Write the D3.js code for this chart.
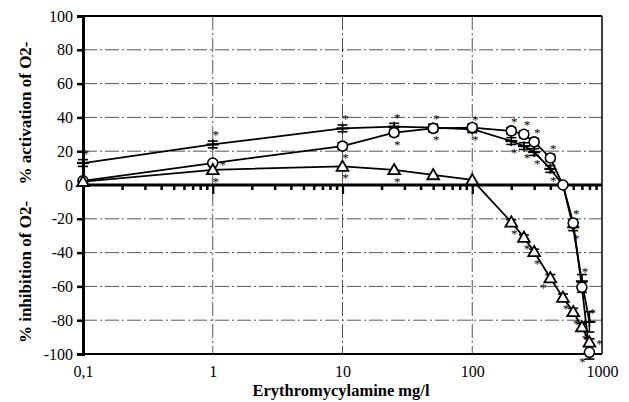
<!DOCTYPE html>
<html><head><meta charset="utf-8">
<script src="https://cdn.jsdelivr.net/npm/d3@7"></script>
</head>
<body style="margin:0;background:#fff"><svg id="c" width="629" height="402"></svg>
<script>
// ---- data ----
const doses = [0.1, 1, 10, 25, 50, 100, 200, 250, 300, 400, 500, 600, 700, 800];
const plusVals = [13, 24, 33.5, 34.5, 34, 33, 26, 23, 19.5, 9.5, 0, -25, -57, -81];
const circleVals = [2.5, 13, 23, 31, 33.5, 34, 32, 30, 25.5, 16, 0, -22.5, -60.5, -99];
const triVals = [2, 9, 11, 9, 6, 3, -22, -31, -39.5, -55, -66.5, -75, -84, -93];
const plusErr = [2, 2, 2, 2, 2, 2, 2, 2, 2, 2, 0, 2, 4, 6];
const circleErr = [1, 1, 2, 2, 2, 2, 2, 2, 2, 2, 0, 2, 3, 4];
const triErr = [0, 0, 0, 0, 0, 0, 1.5, 1.5, 1.5, 2, 2, 2, 2, 2];
// significance asterisks: 1 above, -1 below, 2 right, 3 lower-left, 4 left, 0 none
const plusSig = [1, 1, 1, 1, 1, 1, -1, -1, -1, -1, 0, -1, 1, 1];
const circleSig = [0, 2, -1, -1, -1, -1, 1, 1, 1, 1, 0, 1, 0, 3];
const triSig = [0, -1, -1, -1, 0, 0, -1, -1, -1, 3, -1, -1, -1, 2];
const yTicks = [-100, -80, -60, -40, -20, 0, 20, 40, 60, 80, 100];
const xLabelVals = [0.1, 1, 10, 100, 1000];
const xLabels = ["0,1", "1", "10", "100", "1000"];
const yTitleTop = "% activation of O2-";
const yTitleBottom = "% inhibition of O2-";
const xTitle = "Erythromycylamine mg/l";

// ---- chart ----
const FONT = "Liberation Serif";
const svg = d3.select("#c");
const L = 83, R = 602, T = 16, B = 354;
const x = d3.scaleLog().domain([0.1, 1000]).range([L, R]);
const y = d3.scaleLinear().domain([-100, 100]).range([B, T]);

// gridlines
const gridY = yTicks.filter(v => v !== 0 && Math.abs(v) !== 100);
svg.append("g").selectAll("line").data(gridY).join("line")
  .attr("x1", L).attr("x2", R).attr("y1", d => y(d)).attr("y2", d => y(d))
  .attr("stroke", "#444").attr("stroke-width", 0.9).attr("stroke-dasharray", "14,3,2,3");
svg.append("g").selectAll("line").data([1, 10, 100]).join("line")
  .attr("x1", d => x(d)).attr("x2", d => x(d)).attr("y1", T).attr("y2", B)
  .attr("stroke", "#444").attr("stroke-width", 0.9).attr("stroke-dasharray", "14,3,2,3");

// frame
svg.append("line").attr("x1", L).attr("x2", R).attr("y1", T).attr("y2", T).attr("stroke", "#000").attr("stroke-width", 2.2);
svg.append("line").attr("x1", L).attr("x2", R).attr("y1", B).attr("y2", B).attr("stroke", "#000").attr("stroke-width", 2);
svg.append("line").attr("x1", R).attr("x2", R).attr("y1", T).attr("y2", B).attr("stroke", "#000").attr("stroke-width", 1.5);

// y axis
const yAx = svg.append("g").attr("transform", `translate(${L},0)`)
  .call(d3.axisLeft(y).tickValues(yTicks).tickSize(6).tickFormat(d => d));
yAx.attr("font-family", FONT);
yAx.select(".domain").attr("stroke-width", 3);
yAx.selectAll(".tick line").attr("stroke-width", 2.5);
yAx.selectAll("text").attr("font-size", 16).attr("font-family", FONT).attr("fill", "#000").attr("dx", "-1");

// x zero axis with log ticks
const minor = [];
[0.1, 1, 10, 100].forEach(d => { for (let k = 2; k <= 9; k++) minor.push(d * k); });
const zx = svg.append("g").attr("transform", `translate(0,${y(0)})`)
  .call(d3.axisBottom(x).tickValues(minor).tickSize(5).tickFormat(""));
zx.select(".domain").attr("stroke-width", 2.8).attr("d", `M${L},0H${R}`);
zx.selectAll(".tick line").attr("stroke-width", 2.5);
const zmaj = svg.append("g").attr("transform", `translate(0,${y(0)})`)
  .call(d3.axisBottom(x).tickValues([1, 10, 100]).tickSize(9).tickFormat(""));
zmaj.select(".domain").remove();
zmaj.selectAll(".tick line").attr("stroke-width", 2.2);

// x labels
const xl = svg.append("g").attr("transform", `translate(0,${B})`)
  .call(d3.axisBottom(x).tickValues(xLabelVals).tickSize(0).tickPadding(12).tickFormat((d, i) => xLabels[i]));
xl.attr("font-family", FONT);
xl.select(".domain").remove();
xl.selectAll("text").attr("font-size", 16).attr("font-family", FONT).attr("fill", "#000");

// titles
svg.append("text").attr("transform", "translate(27,113) rotate(-90)")
  .attr("text-anchor", "middle").attr("dominant-baseline", "middle").attr("font-family", FONT)
  .attr("font-weight", "bold").attr("font-size", 17).text(yTitleTop);
svg.append("text").attr("transform", "translate(27,272) rotate(-90)")
  .attr("text-anchor", "middle").attr("dominant-baseline", "middle").attr("font-family", FONT)
  .attr("font-weight", "bold").attr("font-size", 17).text(yTitleBottom);
svg.append("text").attr("x", 341).attr("y", 396).attr("text-anchor", "middle").attr("font-family", FONT)
  .attr("font-weight", "bold").attr("font-size", 16.5).text(xTitle);

const line = d3.line().x(d => x(d[0])).y(d => y(d[1]));
const series = [
  {vals: plusVals, err: plusErr, sig: plusSig, type: "plus"},
  {vals: circleVals, err: circleErr, sig: circleSig, type: "circle"},
  {vals: triVals, err: triErr, sig: triSig, type: "tri"}
];
const astOff = {"1": [3, -5], "-1": [3, 16], "2": [10, 6], "3": [-7, 14], "4": [-9, 8]};
series.forEach(s => {
  const pts = doses.map((d, i) => [d, s.vals[i], s.err[i], s.sig[i]]);
  svg.append("path").datum(pts).attr("d", line).attr("fill", "none")
    .attr("stroke", "#000").attr("stroke-width", 1.8);
  const g = svg.append("g");
  pts.filter(p => p[2] > 0).forEach(p => {
    const cx = x(p[0]), y1 = y(p[1] + p[2]), y2 = y(p[1] - p[2]);
    g.append("line").attr("x1", cx).attr("x2", cx).attr("y1", y1).attr("y2", y2).attr("stroke", "#000").attr("stroke-width", 1.5);
    [y1, y2].forEach(yy => g.append("line").attr("x1", cx - 5).attr("x2", cx + 5).attr("y1", yy).attr("y2", yy).attr("stroke", "#000").attr("stroke-width", 1.6));
  });
  pts.forEach(p => {
    const cx = x(p[0]), cy = y(p[1]);
    if (s.type === "circle") {
      g.append("circle").attr("cx", cx).attr("cy", cy).attr("r", 5)
        .attr("fill", "#fff").attr("stroke", "#000").attr("stroke-width", 1.6);
    } else if (s.type === "tri") {
      g.append("path").attr("transform", `translate(${cx},${cy + 1})`)
        .attr("d", d3.symbol(d3.symbolTriangle, 60)())
        .attr("fill", "#fff").attr("stroke", "#000").attr("stroke-width", 1.8);
    } else {
      g.append("line").attr("x1", cx - 6).attr("x2", cx + 6).attr("y1", cy).attr("y2", cy).attr("stroke", "#000").attr("stroke-width", 2.2);
      g.append("line").attr("x1", cx).attr("x2", cx).attr("y1", cy - 5).attr("y2", cy + 5).attr("stroke", "#000").attr("stroke-width", 1.6);
    }
    if (p[3] !== 0) {
      const o = astOff[String(p[3])];
      g.append("text").attr("x", cx + o[0]).attr("y", cy + o[1]).attr("font-family", FONT)
        .attr("text-anchor", "middle").attr("font-size", 13).attr("fill", "#000").text("*");
    }
  });
});
</script></body></html>
